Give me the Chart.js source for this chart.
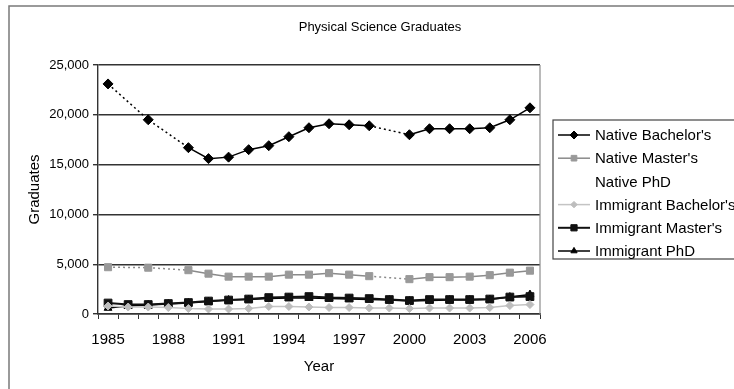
<!DOCTYPE html>
<html>
<head>
<meta charset="utf-8">
<script src="https://cdn.jsdelivr.net/npm/chart.js@4.4.0/dist/chart.umd.min.js"></script>
<style>
html,body{margin:0;padding:0;background:#fff;}
#wrap{width:734px;height:389px;position:relative;}
</style>
</head>
<body>
<div id="wrap"><canvas id="c" width="734" height="389"></canvas></div>
<script>
const years = ['1985','1986','1987','1988','1989','1990','1991','1992','1993','1994','1995','1996','1997','1998','1999','2000','2001','2002','2003','2004','2005','2006'];
const seriesLabels = ["Native Bachelor's","Native Master's","Native PhD","Immigrant Bachelor's","Immigrant Master's","Immigrant PhD"];
const nativeBachelors = [23100,null,19500,null,16700,15600,15750,16500,16900,17800,18700,19100,19000,18900,null,18000,18600,18600,18600,18700,19500,20700];
const nativeMasters = [4700,null,4650,null,4400,4050,3750,3750,3750,3950,3950,4100,3950,3800,null,3500,3700,3700,3750,3900,4150,4350];
const nativePhD = [null,null,null,null,null,null,null,null,null,null,null,null,null,null,null,null,null,null,null,null,null,null];
const immigrantBachelors = [800,700,700,650,550,500,500,550,750,750,700,650,650,600,600,550,600,600,600,650,850,950];
const immigrantMasters = [1100,950,950,1050,1150,1300,1400,1500,1650,1700,1750,1650,1600,1550,1450,1350,1450,1450,1450,1500,1700,1750];
const immigrantPhD = [600,800,900,1000,1100,1250,1400,1450,1550,1600,1600,1550,1500,1450,1400,1300,1350,1400,1400,1450,1700,1950];
const yTicks = [0,5000,10000,15000,20000,25000];
const xLabelYears = ['1985','1988','1991','1994','1997','2000','2003','2006'];
const chartTitle = 'Physical Science Graduates';

const FONT = "'Liberation Sans', Arial, sans-serif";
const gapDash = ctx => (ctx.p0.skip || ctx.p1.skip) ? [2,3] : undefined;

function ds(label, data, color, fill, style, radius, width, extra) {
  return Object.assign({
    label, data,
    borderColor: color, backgroundColor: fill,
    pointBackgroundColor: fill, pointBorderColor: fill,
    pointStyle: style, pointRadius: radius, pointHoverRadius: radius,
    borderWidth: width, pointBorderWidth: 1,
    tension: 0, spanGaps: true,
    segment: { borderDash: gapDash }
  }, extra || {});
}

const datasets = [
  ds(seriesLabels[0], nativeBachelors, '#000', '#000', 'rectRot', 5, 1.5),
  ds(seriesLabels[1], nativeMasters, '#8a8a8a', '#999', 'rect', 5, 1.5),
  ds(seriesLabels[2], nativePhD, 'rgba(0,0,0,0)', 'rgba(0,0,0,0)', false, 0, 0, {showLine:false}),
  ds(seriesLabels[3], immigrantBachelors, '#c4c4c4', '#bdbdbd', 'rectRot', 4, 1.5),
  ds(seriesLabels[4], immigrantMasters, '#111', '#111', 'rect', 5.5, 2),
  ds(seriesLabels[5], immigrantPhD, '#000', '#000', 'triangle', 4.5, 1.5)
];

const decor = {
  id: 'decor',
  beforeDraw(chart) {
    const ctx = chart.ctx;
    ctx.save();
    ctx.fillStyle = '#fff';
    ctx.fillRect(0, 0, chart.width, chart.height);
    ctx.strokeStyle = '#7a7a7a';
    ctx.lineWidth = 1.5;
    ctx.strokeRect(9, 6, 760, 400);
    ctx.fillStyle = '#000';
    ctx.font = '13px ' + FONT;
    ctx.textAlign = 'center';
    ctx.textBaseline = 'middle';
    ctx.fillText(chartTitle, 380, 27);
    ctx.restore();
  },
  afterDraw(chart) {
    const ctx = chart.ctx;
    const a = chart.chartArea;
    ctx.save();
    ctx.strokeStyle = '#8c8c8c';
    ctx.lineWidth = 1.2;
    ctx.beginPath();
    ctx.moveTo(a.right, a.top);
    ctx.lineTo(a.right, a.bottom);
    ctx.stroke();
    const lx = 553, ly = 120, lh = 23.2;
    ctx.strokeStyle = '#444';
    ctx.lineWidth = 1.2;
    ctx.strokeRect(lx, ly, 200, 139);
    ctx.font = '15px ' + FONT;
    ctx.textBaseline = 'middle';
    ctx.textAlign = 'left';
    chart.data.datasets.forEach((d, i) => {
      const y = ly + 15 + i * lh;
      if (d.pointRadius > 0) {
        ctx.strokeStyle = d.borderColor;
        ctx.lineWidth = d.borderWidth;
        ctx.setLineDash([]);
        ctx.beginPath();
        ctx.moveTo(558, y);
        ctx.lineTo(590, y);
        ctx.stroke();
        ctx.fillStyle = d.pointBackgroundColor;
        ctx.strokeStyle = d.pointBorderColor;
        ctx.lineWidth = 1;
        Chart.helpers.drawPoint(ctx, {pointStyle: d.pointStyle, radius: d.pointRadius * 0.8, rotation: 0, borderWidth: 1}, 574, y);
      }
      ctx.fillStyle = '#000';
      ctx.fillText(d.label, 595, y + 1);
    });
    ctx.restore();
  }
};

new Chart(document.getElementById('c'), {
  type: 'line',
  data: { labels: years, datasets },
  plugins: [decor],
  options: {
    responsive: false,
    animation: false,
    devicePixelRatio: 1,
    layout: { padding: { left: 22, right: 194, top: 65, bottom: 9 } },
    plugins: {
      legend: { display: false },
      tooltip: { enabled: false },
      title: { display: false }
    },
    scales: {
      x: {
        type: 'category',
        offset: true,
        afterFit(s) { s.height = 66; },
        grid: { display: true, drawOnChartArea: false, drawTicks: true, tickLength: 5, offset: true, color: '#333', lineWidth: 1 },
        border: { display: true, color: '#333', width: 1.5 },
        ticks: {
          autoSkip: false, maxRotation: 0, padding: 12, color: '#000',
          font: { family: FONT, size: 15 },
          callback(v, i) { const y = years[i]; return xLabelYears.includes(y) ? y : ''; }
        },
        title: { display: true, text: 'Year', color: '#000', font: { family: FONT, size: 15 }, padding: { top: 4, bottom: 4 } }
      },
      y: {
        min: 0, max: 25000,
        afterFit(s) { s.width = 76; },
        afterBuildTicks(s) { s.ticks = yTicks.map(v => ({ value: v })); },
        grid: { color: '#333', lineWidth: 1.4, tickLength: 5 },
        border: { display: true, color: '#333', width: 1.4 },
        ticks: {
          padding: 4, color: '#000',
          font: { family: FONT, size: 13 },
          callback(v) { return Number(v).toLocaleString('en-US'); }
        },
        title: { display: true, text: 'Graduates', color: '#000', font: { family: FONT, size: 15 }, padding: { top: 4, bottom: 4 } }
      }
    }
  }
});
</script>
</body>
</html>
